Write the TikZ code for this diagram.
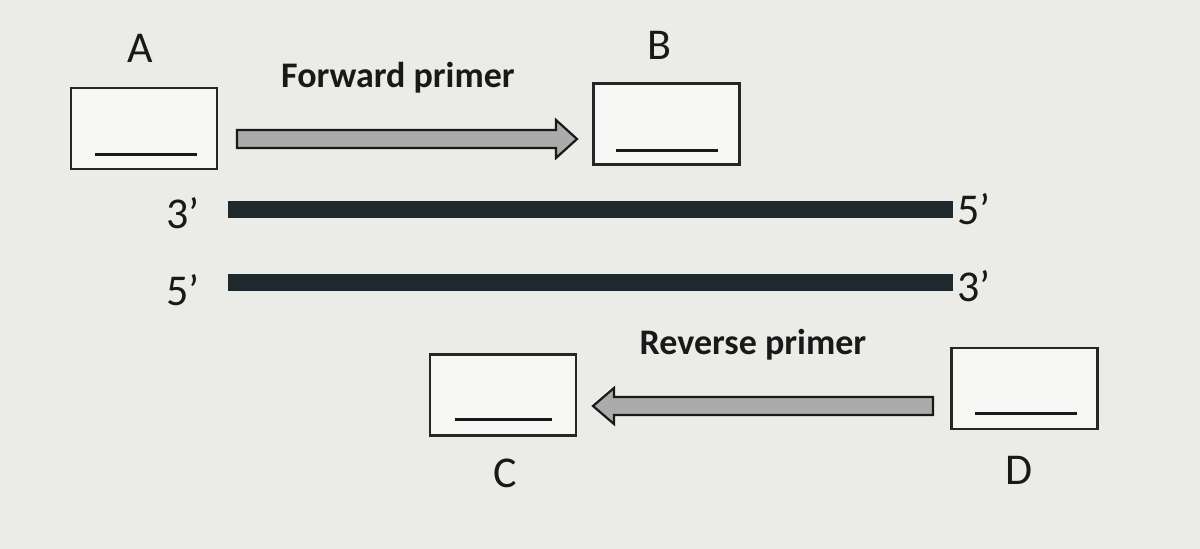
\documentclass[tikz,border=0pt]{standalone}
\usepackage{fontspec}
\setmainfont{Carlito}
\begin{document}
\begin{tikzpicture}[x=1pt,y=-1pt,
  blank/.style={draw=black!85,line width=2.2pt,fill=white!60!bggray,minimum width=146pt,minimum height=81pt,inner sep=0pt},
  blankline/.style={line width=3pt,draw=black!90},
  primer/.style={draw=black!90,line width=2.2pt,fill=arrowgray,line join=miter},
  strand/.style={fill=strandcol,draw=none},
  lbl/.style={font=\fontsize{44}{48}\selectfont,text=black!90,inner sep=0pt},
  plbl/.style={font=\fontsize{36}{40}\selectfont\bfseries,text=black!90,inner sep=0pt}]
\definecolor{bggray}{HTML}{EBEBE8}
\definecolor{arrowgray}{HTML}{ABABAB}
\definecolor{strandcol}{HTML}{1E282D}
\fill[bggray] (0,0) rectangle (1200,549);
\useasboundingbox (0,0) rectangle (1200,549);
% boxes
\node[blank] (boxA) at (144,128.5) {};
\node[blank] (boxB) at (666.5,124) {};
\node[blank] (boxC) at (503,395) {};
\node[blank] (boxD) at (1024.5,388.5) {};
\draw[blankline] (95,154) -- (197,154);
\draw[blankline] (616,150) -- (718,150);
\draw[blankline] (455,419) -- (552,419);
\draw[blankline] (975,413) -- (1077,413);
% strands
\fill[strand] (228,201) rectangle (953,218);
\fill[strand] (228,274) rectangle (953,291);
% primers
\draw[primer] (237,130) -- (556,130) -- (556,120) -- (577,139) -- (556,158) -- (556,148) -- (237,148) -- cycle;
\draw[primer] (933,397) -- (614,397) -- (614,388) -- (593,406) -- (614,424) -- (614,415) -- (933,415) -- cycle;
% labels
\node[lbl] (lA) at (140,48) {A};
\node[lbl] (lB) at (659,45) {B};
\node[lbl] (lC) at (505,473) {C};
\node[lbl] (lD) at (1019,470) {D};
\node[lbl] (l3a) at (183,213) {3’};
\node[lbl] (l5a) at (183,290) {5’};
\node[lbl] (l5b) at (974,209) {5’};
\node[lbl] (l3b) at (974,286) {3’};
\node[plbl] (fwd) at (398,78) {Forward primer};
\node[plbl] (rev) at (753,345) {Reverse primer};
\end{tikzpicture}
\end{document}
